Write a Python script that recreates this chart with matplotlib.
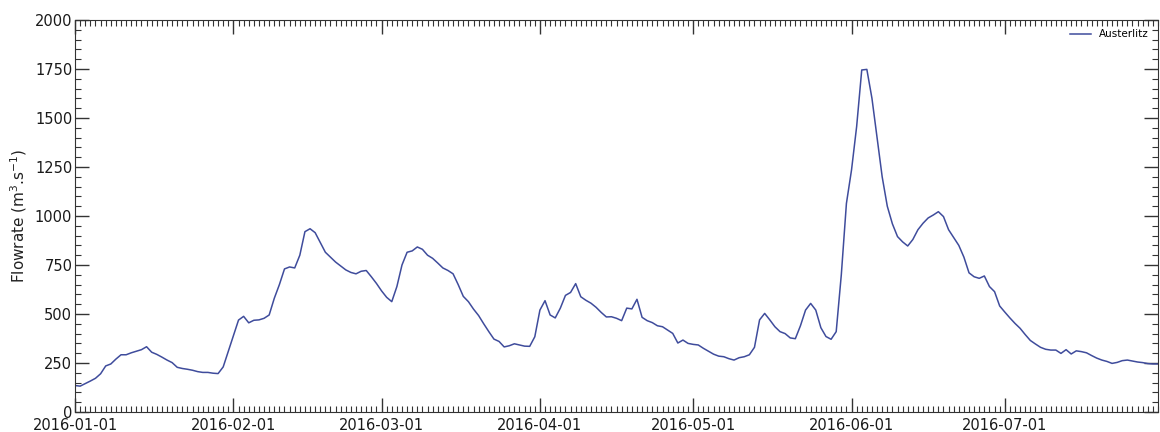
import numpy as np
import pandas as pd
import matplotlib
matplotlib.use("Agg")
import matplotlib.pyplot as plt
import matplotlib.dates as mdates
from matplotlib.ticker import MultipleLocator

# daily flowrate at Austerlitz, 2016-01-01 .. 2016-07-31
start_date = "2016-01-01"
end_date = "2016-07-31"
flow = [
    135, 132, 145, 158, 172, 195, 235, 245, 270, 292,
    292, 302, 310, 318, 333, 305, 294, 280, 265, 252,
    228, 222, 218, 213, 206, 202, 202, 198, 196, 230,
    310, 390, 469, 488, 455, 468, 470, 478, 495, 580,
    650, 730, 740, 735, 800, 920, 935, 915, 865, 815,
    790, 765, 745, 725, 712, 705, 718, 722, 690, 656,
    618, 585, 563, 640, 750, 815, 822, 842, 830, 800,
    784, 760, 735, 722, 705, 650, 590, 563, 525, 492,
    450, 410, 372, 360, 332, 338, 348, 342, 336, 335,
    384, 520, 568, 495, 480, 530, 595, 610, 655, 588,
    570, 555, 534, 508, 485, 486, 478, 466, 530, 526,
    575, 483, 466, 456, 440, 435, 418, 401, 352, 367,
    350, 345, 342, 325, 310, 295, 285, 282, 272, 265,
    277, 282, 292, 330, 470, 503, 470, 435, 410, 400,
    378, 374, 440, 520, 554, 520, 430, 385, 371, 410,
    700, 1064, 1235, 1456, 1745, 1748, 1600, 1400, 1200, 1050,
    960, 895, 868, 847, 880, 930, 963, 990, 1005, 1022,
    997, 930, 890, 850, 790, 710, 690, 682, 694, 640,
    614, 541, 510, 480, 452, 427, 395, 365, 347, 330,
    320, 316, 316, 299, 318, 296, 312, 308, 302, 288,
    275, 265, 258, 248, 253, 262, 265, 260, 255, 252,
    247, 245, 245,
]
station = "Austerlitz"

dates = pd.date_range(start_date, end_date, freq="D")
s = pd.Series(flow, index=dates)

plt.rcParams["font.family"] = "DejaVu Sans"
fig = plt.figure(figsize=(11.6, 4.32), dpi=100)
ax = fig.add_axes([0.0647, 0.0463, 0.9336, 0.9074])

ax.plot(s.index, s.values, color="#3f4c9c", lw=1.1, label=station)

ax.set_xlim(s.index[0], s.index[-1])
ax.set_ylim(0, 2000)
ax.yaxis.set_major_locator(MultipleLocator(250))
ax.yaxis.set_minor_locator(MultipleLocator(50))
ax.xaxis.set_major_locator(mdates.MonthLocator())
ax.xaxis.set_minor_locator(mdates.DayLocator())
ax.xaxis.set_major_formatter(mdates.DateFormatter("%Y-%m-%d"))

ax.tick_params(which="both", direction="in", top=True, right=True,
               color="#333333", labelcolor="#1a1a1a")
ax.tick_params(which="major", length=10, width=1, labelsize=10.5, pad=4)
ax.tick_params(axis="y", which="major", pad=2)
ax.tick_params(which="minor", length=4, width=0.8)
for sp in ax.spines.values():
    sp.set_color("#333333")

ax.set_ylabel("Flowrate (m$^3$.s$^{-1}$)", fontsize=11, color="#222222", labelpad=4)
ax.legend(loc="upper right", frameon=False, fontsize=7.5, handlelength=2)

fig.savefig("out.png", dpi=100)
